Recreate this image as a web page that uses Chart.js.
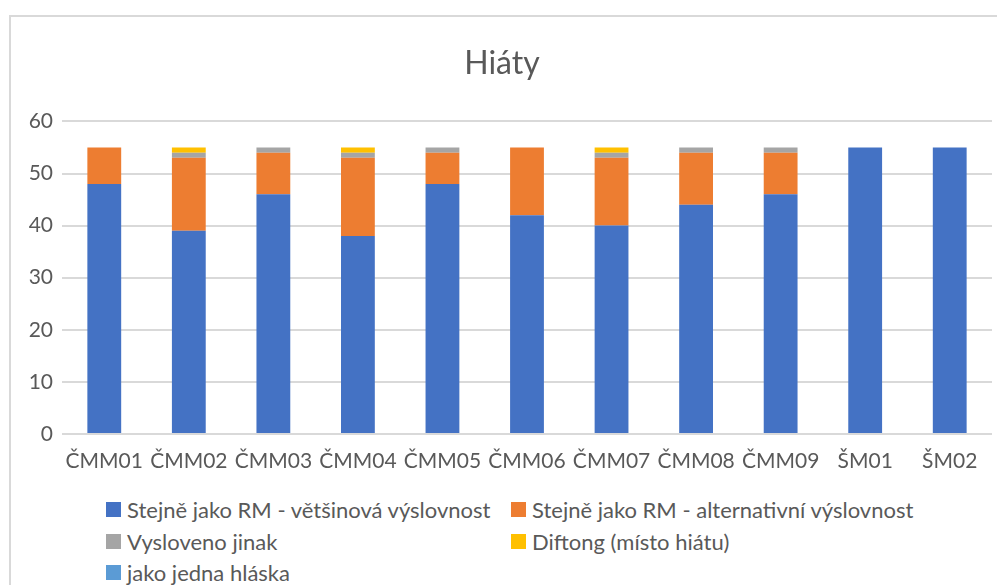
<!DOCTYPE html>
<html>
<head>
<meta charset="utf-8">
<script src="https://cdn.jsdelivr.net/npm/chart.js@4"></script>
<style>
    html, body { margin: 0; padding: 0; background: #fff; overflow: hidden; }
    body { width: 997px; height: 585px; position: relative; font-family: Lato, sans-serif; }
    #frame { position: absolute; left: 9px; top: 15px; width: 1100px; height: 700px; border: 2px solid #d9d9d9; box-sizing: border-box; }
    #chart { position: absolute; left: 0; top: 0; }
    #legend { position: absolute; left: 106px; top: 494px; display: grid; grid-template-columns: 405px 420px; row-gap: 0; }
    .item { display: flex; align-items: center; height: 31.5px; font-size: 22px; color: #595959; white-space: nowrap; }
    .box { width: 15px; height: 15px; margin-right: 6px; flex: none; }
</style>
</head>
<body>
<div id="frame"></div>
<canvas id="chart" width="997" height="480"></canvas>
<div id="legend"></div>
<script>
const categories = ['ČMM01', 'ČMM02', 'ČMM03', 'ČMM04', 'ČMM05', 'ČMM06', 'ČMM07', 'ČMM08', 'ČMM09', 'ŠM01', 'ŠM02'];
const seriesNames = [
    'Stejně jako RM - většinová výslovnost',
    'Stejně jako RM - alternativní výslovnost',
    'Vysloveno jinak',
    'Diftong (místo hiátu)',
    'jako jedna hláska'
];
const vetsinova = [48, 39, 46, 38, 48, 42, 40, 44, 46, 55, 55];
const alternativni = [7, 14, 8, 15, 6, 13, 13, 10, 8, 0, 0];
const jinak = [0, 1, 1, 1, 1, 0, 1, 1, 1, 0, 0];
const diftong = [0, 1, 0, 1, 0, 0, 1, 0, 0, 0, 0];
const jednaHlaska = [0, 0, 0, 0, 0, 0, 0, 0, 0, 0, 0];
const yTicks = [0, 10, 20, 30, 40, 50, 60];

const colors = ['#4472C4', '#ED7D31', '#A5A5A5', '#FFC000', '#5B9BD5'];
const seriesData = [vetsinova, alternativni, jinak, diftong, jednaHlaska];

Chart.defaults.font.family = 'Lato';
Chart.defaults.color = '#595959';

const chart = new Chart(document.getElementById('chart'), {
    type: 'bar',
    data: {
        labels: categories,
        datasets: seriesData.map((d, i) => ({
            label: seriesNames[i],
            data: d,
            backgroundColor: colors[i],
            borderWidth: 0,
            barPercentage: 0.4,
            categoryPercentage: 1
        }))
    },
    options: {
        responsive: false,
        animation: false,
        layout: { padding: { left: 12, right: 5, top: 0, bottom: 0 } },
        plugins: {
            legend: { display: false },
            tooltip: { enabled: false },
            title: {
                display: true,
                text: 'Hiáty',
                color: '#595959',
                font: { size: 32, weight: 'normal' },
                padding: { top: 44, bottom: 39 }
            }
        },
        scales: {
            x: {
                stacked: true,
                grid: { display: false },
                border: { display: false },
                ticks: { font: { size: 21 }, padding: 7, maxRotation: 0 },
                afterFit: s => { s.height = 46; }
            },
            y: {
                stacked: true,
                min: 0,
                max: 60,
                grid: { color: '#d9d9d9', lineWidth: 2, drawTicks: false },
                border: { display: false },
                afterBuildTicks: s => { s.ticks = yTicks.map(v => ({ value: v })); },
                ticks: { font: { size: 21 }, padding: 9 },
                afterFit: s => { s.width = 50; }
            }
        }
    }
});

// Excel style legend in two columns
const legend = document.getElementById('legend');
chart.data.datasets.forEach(ds => {
    const item = document.createElement('div');
    item.className = 'item';
    item.innerHTML = '<span class="box" style="background:' + ds.backgroundColor + '"></span>' + ds.label;
    legend.appendChild(item);
});
</script>
</body>
</html>
